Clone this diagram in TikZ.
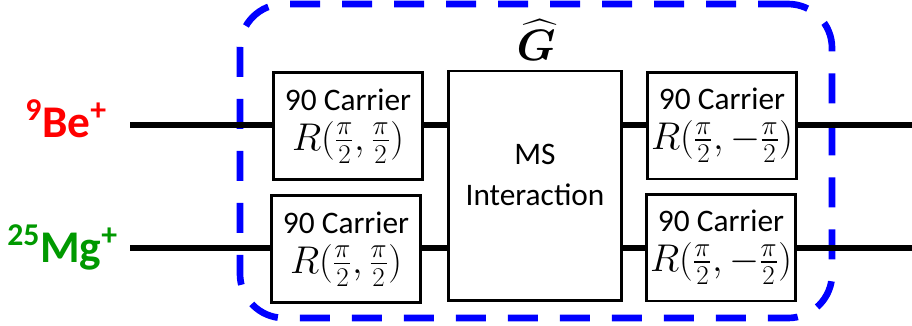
\documentclass[tikz,border=0pt]{standalone}
\usepackage{fix-cm}
\usepackage{amsmath}
\usepackage{bm}
\usepackage{fontspec}
\setmainfont{Carlito}
\usetikzlibrary{positioning}

\definecolor{ionred}{RGB}{255,0,0}
\definecolor{iongreen}{RGB}{0,153,0}
\definecolor{gateblue}{RGB}{0,0,255}

\newcommand{\rgate}[2]{{\fontsize{29}{32}\selectfont$R(\frac{#1}{2},#2\frac{\pi}{2})$}}

\begin{document}
\begin{tikzpicture}[
  x=0.75pt, y=-0.75pt,
  font=\fontsize{23.5}{27}\selectfont,
  carrier/.style={rectangle, draw=black, line width=2pt, fill=white,
                  minimum width=112pt, minimum height=80pt,
                  align=center, inner sep=0pt},
  msbox/.style={rectangle, draw=black, line width=2pt, fill=white,
                minimum width=130pt, minimum height=172pt, inner sep=0pt},
  ion/.style={font=\fontsize{34}{40}\selectfont\bfseries, anchor=base east, inner sep=0pt},
  wire/.style={line width=3.8pt},
]
\useasboundingbox (0,0) rectangle (912,325);

% dashed frame of the composite gate
\node[draw=gateblue, line width=5pt, dash pattern=on 22.5pt off 16.5pt,
      rounded corners=33pt, minimum width=444pt, minimum height=235.5pt,
      inner sep=0pt] (frame) at (536,161) {};
\node[font=\fontsize{33}{36}\selectfont] (ghat) at (536,40)
      {$\widehat{\bm{G}}$};

% ions
\node[ion, text=ionred]   (be) at (107,137) {\textsuperscript{9}Be\textsuperscript{+}};
\node[ion, text=iongreen] (mg) at (118,262) {\textsuperscript{25}Mg\textsuperscript{+}};

\coordinate (bein)  at (130,125);
\coordinate (beout) at (912,125);
\coordinate (mgin)  at (130,248);
\coordinate (mgout) at (912,248);

% gates
\node[carrier] (ul) at (348,126) {90 Carrier\\[3pt]\rgate{\pi}{}};
\node[carrier] (ll) at (346,249) {90 Carrier\\[3pt]\rgate{\pi}{}};
\node[msbox]   (ms) at (535,185.5) {};
\node[align=center, font=\fontsize{23.5}{31}\selectfont] (mstext) at (535,175) {MS\\Interaction};
\node[carrier] (ur) at (722,125.5) {90 Carrier\\[3pt]\rgate{\pi}{-}};
\node[carrier] (lr) at (721,247.5) {90 Carrier\\[3pt]\rgate{\pi}{-}};

\draw[wire] (bein) -- (bein -| ul.west);
\draw[wire] (ul.east |- bein) -- (bein -| ms.west);
\draw[wire] (ms.east |- bein) -- (bein -| ur.west);
\draw[wire] (ur.east |- bein) -- (beout);

\draw[wire] (mgin) -- (mgin -| ll.west);
\draw[wire] (ll.east |- mgin) -- (mgin -| ms.west);
\draw[wire] (ms.east |- mgin) -- (mgin -| lr.west);
\draw[wire] (lr.east |- mgin) -- (mgout);

\end{tikzpicture}
\end{document}
